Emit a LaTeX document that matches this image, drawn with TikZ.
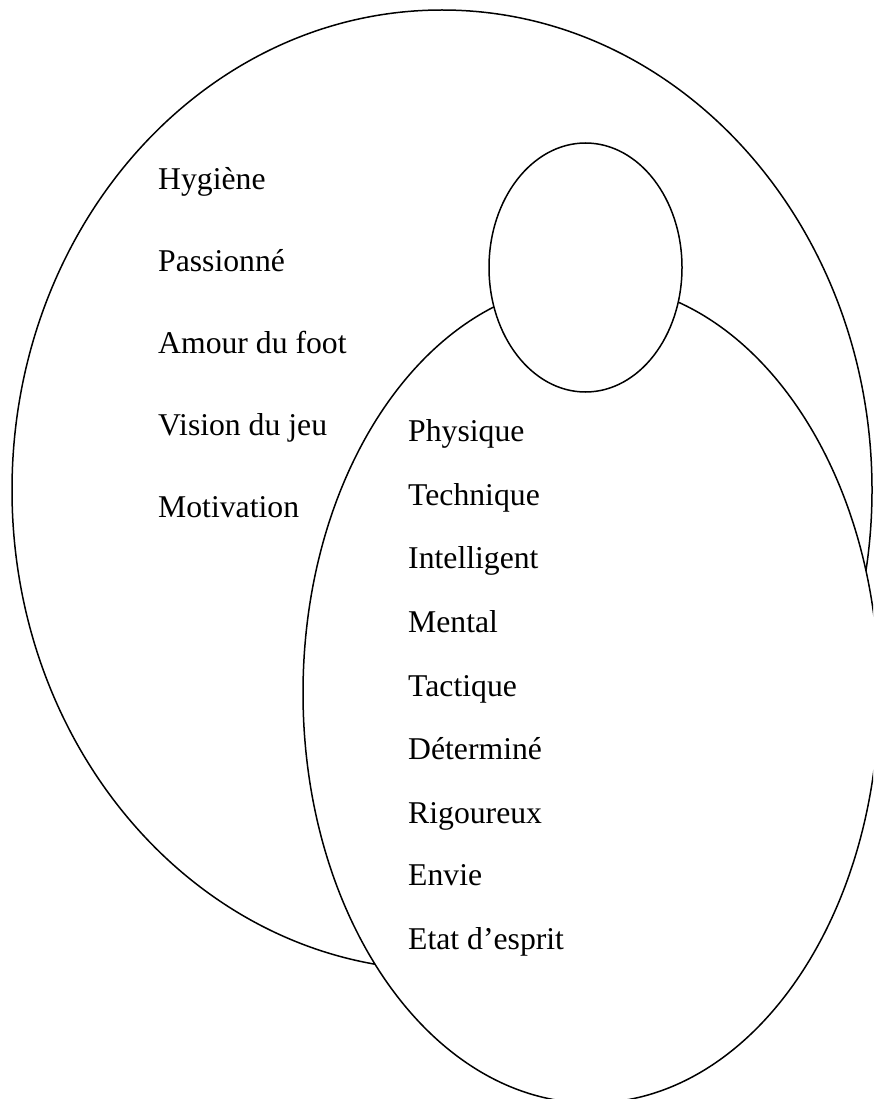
\documentclass[tikz,border=0pt]{standalone}
\usepackage{fontspec}
\setmainfont{Liberation Serif}
\usetikzlibrary{shapes.geometric}
\begin{document}
\begin{tikzpicture}[x=1pt,y=-1pt,
  set/.style={ellipse,draw=black,fill=white,line width=1.5pt,inner sep=0pt},
  lbl/.style={anchor=base west,inner sep=0pt,font=\fontsize{31.7}{38}\selectfont}]
\useasboundingbox (0,0) rectangle (873,1099);
\clip (0,0) rectangle (873,1099);
\fill[white] (0,0) rectangle (873,1099);
\node[set,minimum width=860pt,minimum height=960pt] (big) at (442,490) {};
\node[set,minimum width=576pt,minimum height=820pt] (low) at (591,693) {};
\node[set,minimum width=193pt,minimum height=249pt] (small) at (585.5,267.5) {};
% left column
\node[lbl] (t1) at (158,190) {Hygiène};
\node[lbl] (t2) at (158,271) {Passionné};
\node[lbl] (t3) at (158,353) {Amour du foot};
\node[lbl] (t4) at (158,435) {Vision du jeu};
\node[lbl] (t5) at (158,517) {Motivation};
% right column
\node[lbl] (r1) at (408,441) {Physique};
\node[lbl] (r2) at (408,505) {Technique};
\node[lbl] (r3) at (408,568) {Intelligent};
\node[lbl] (r4) at (408,632) {Mental};
\node[lbl] (r5) at (408,696) {Tactique};
\node[lbl] (r6) at (408,759) {Déterminé};
\node[lbl] (r7) at (408,823) {Rigoureux};
\node[lbl] (r8) at (408,885) {Envie};
\node[lbl] (r9) at (408,949) {Etat d’esprit};
\end{tikzpicture}
\end{document}
